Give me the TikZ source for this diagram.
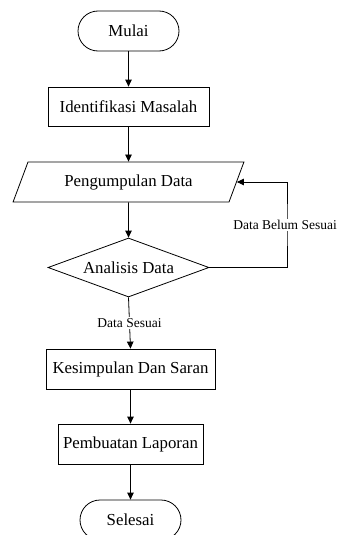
\documentclass[tikz,border=0pt]{standalone}
\usepackage{fontspec}
\setmainfont{Liberation Serif}
\usepackage{tikz}
\usetikzlibrary{arrows.meta,positioning,shapes.geometric}
\definecolor{fcline}{HTML}{000000}
\tikzset{
  box/.style={draw=fcline,line width=0.8pt,align=center,inner sep=2pt,font=\fontsize{16.8}{19}\selectfont,minimum height=40pt},
  terminal/.style={box,rounded corners=20pt,minimum width=101pt},
  proc/.style={box,rectangle},
  io/.style={box,trapezium,trapezium left angle=63,trapezium right angle=117,trapezium stretches=true,minimum width=231pt},
  decision/.style={box,diamond,aspect=2.73,inner sep=0pt,minimum width=161pt,minimum height=59pt},
  ar/.style={-{Triangle[length=7pt,width=6.5pt]},draw=fcline,line width=0.8pt},
  lbl/.style={fill=white,inner sep=1pt,font=\fontsize{13.5}{16}\selectfont},
}
\begin{document}
\begin{tikzpicture}[x=1pt,y=-1pt]
    \useasboundingbox (0,0) rectangle (338,535);
    % langkah-langkah
    \node[terminal] (mulai) at (128.5,31) {Mulai};
    \node[proc,minimum width=161pt,minimum height=39pt] (identifikasi) at (128.5,106.5) {Identifikasi Masalah};
    \node[io] (pengumpulan) at (128.5,182) {Pengumpulan Data};
    \node[decision] (analisis) at (128.5,267.5) {Analisis Data};
    \node[proc,minimum width=169pt] (kesimpulan) at (130.5,369) {Kesimpulan Dan Saran};
    \node[proc,minimum width=145pt] (laporan) at (130.5,444) {Pembuatan Laporan};
    \node[terminal] (selesai) at (130.5,520) {Selesai};
    \coordinate (belok) at (287,225);
    % panah
    \draw[ar] (mulai) -- (identifikasi);
    \draw[ar] (identifikasi) -- (pengumpulan);
    \draw[ar] (pengumpulan) -- (analisis);
    \draw[ar] (analisis.south) -- (kesimpulan.north) node[lbl,pos=0.5]{Data Sesuai};
    \draw[ar] (analisis.east) -| (belok) |- (pengumpulan.east);
    \node[lbl,xshift=-2pt] at (belok) {Data Belum Sesuai};
    \draw[ar] (kesimpulan) -- (laporan);
    \draw[ar] (laporan) -- (selesai);
\end{tikzpicture}
\end{document}
